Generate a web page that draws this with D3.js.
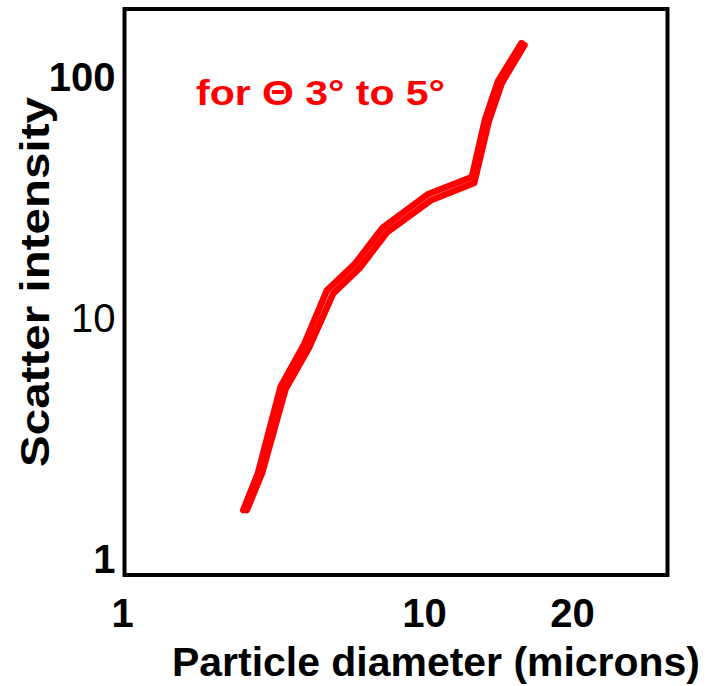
<!DOCTYPE html>
<html>
<head>
<meta charset="utf-8">
<script src="https://cdn.jsdelivr.net/npm/d3@7"></script>
<style>
  body { margin: 0; background: #fff; }
  text { font-family: Arial, "Liberation Sans", sans-serif; }
</style>
</head>
<body>
<div id="chart"></div>
<script>
// particle diameter (microns), two hand-traced strokes of the same curve
var diamA = [2.52, 2.82, 3.35, 4.02, 4.77, 5.90, 7.30, 10.21, 12.51, 13.31, 14.14, 15.79];
var intensA = [1.58, 2.25, 5.13, 7.76, 12.9, 16.6, 23.5, 32.4, 38.1, 66.0, 95.1, 137];
var diamB = [2.59, 2.91, 3.48, 4.18, 5.00, 6.11, 7.56, 10.36, 12.65, 13.56, 14.41, 16.01];
var intensB = [1.58, 2.25, 5.02, 7.54, 12.5, 15.9, 22.5, 30.6, 36.0, 65.3, 93.7, 134.5];

var xTicks = [1, 10, 20];
var yTicks = [1, 10, 100];
var label = "for \u0398 3\u00b0 to 5\u00b0";

var width = 714, height = 686;

var svg = d3.select("#chart").append("svg")
    .attr("width", width)
    .attr("height", height)
    .style("display", "block");

svg.append("rect")
    .attr("width", width)
    .attr("height", height)
    .attr("fill", "#fff");

// the x axis of the original is not a true log axis: 20 sits further out
var x = d3.scaleLog().domain([1, 10, 20]).range([122, 424, 572]);
var y = d3.scaleLog().domain([1, 100]).range([558, 76]);

var frame = { left: 124.5, right: 667.5, top: 9, bottom: 575 };

var xAxis = svg.append("g")
    .attr("transform", "translate(0," + frame.bottom + ")")
    .call(d3.axisBottom(x).tickValues(xTicks).tickSize(0).tickFormat(d3.format("d")));
xAxis.select(".domain").remove();
xAxis.selectAll("text")
    .attr("y", 52)
    .attr("dy", 0)
    .style("font-size", "40px")
    .style("font-weight", "bold")
    .attr("fill", "#000");

var yAxis = svg.append("g")
    .attr("transform", "translate(" + frame.left + ",0)")
    .call(d3.axisLeft(y).tickValues(yTicks).tickSize(0).tickFormat(d3.format("d")));
yAxis.select(".domain").remove();
yAxis.selectAll("text")
    .attr("x", -9)
    .attr("dy", "0.36em")
    .style("font-size", "40px")
    .style("font-weight", function(d) { return d === 10 ? "normal" : "bold"; })
    .attr("fill", "#000");

svg.append("rect")
    .attr("x", frame.left)
    .attr("y", frame.top)
    .attr("width", frame.right - frame.left)
    .attr("height", frame.bottom - frame.top)
    .attr("fill", "none")
    .attr("stroke", "#000")
    .attr("stroke-width", 4);

var line = d3.line()
    .x(function(d) { return x(d[0]); })
    .y(function(d) { return y(d[1]); });

[d3.zip(diamA, intensA), d3.zip(diamB, intensB)].forEach(function(pts) {
  svg.append("path")
      .datum(pts)
      .attr("d", line)
      .attr("fill", "none")
      .attr("stroke", "#ff0000")
      .attr("stroke-width", 6.5)
      .attr("stroke-linejoin", "round")
      .attr("stroke-linecap", "round");
});

svg.append("text")
    .attr("x", 196)
    .attr("y", 105)
    .attr("textLength", 249)
    .attr("lengthAdjust", "spacingAndGlyphs")
    .attr("fill", "#ff0000")
    .style("font-size", "35px")
    .style("font-weight", "bold")
    .text(label);

svg.append("text")
    .attr("x", 436)
    .attr("y", 676)
    .attr("text-anchor", "middle")
    .attr("textLength", 528)
    .attr("lengthAdjust", "spacingAndGlyphs")
    .style("font-size", "40px")
    .style("font-weight", "bold")
    .text("Particle diameter (microns)");

svg.append("text")
    .attr("transform", "translate(49,282) rotate(-90)")
    .attr("text-anchor", "middle")
    .attr("textLength", 370)
    .attr("lengthAdjust", "spacingAndGlyphs")
    .style("font-size", "40px")
    .style("font-weight", "bold")
    .text("Scatter intensity");
</script>
</body>
</html>
